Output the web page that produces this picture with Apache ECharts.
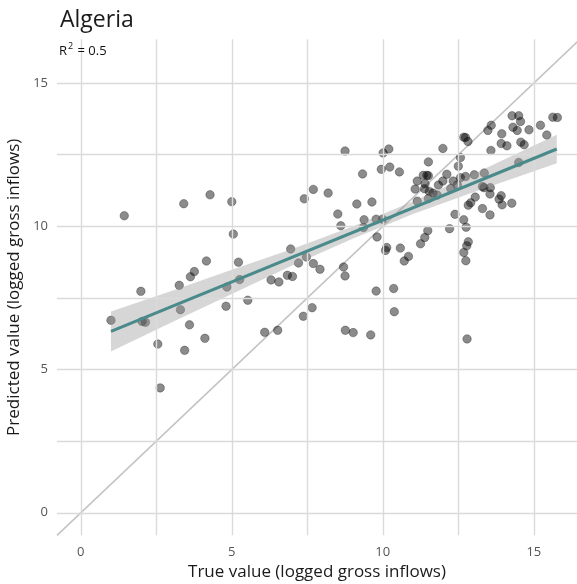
<!DOCTYPE html>
<html>
<head>
<meta charset="utf-8">
<script src="https://cdn.jsdelivr.net/npm/echarts@6/dist/echarts.min.js"></script>
<style>html,body{margin:0;padding:0;background:#fff;}#chart{width:577px;height:584px;}</style>
</head>
<body>
<div id="chart"></div>
<script>
// ---- data ----
const trueVals = [1.00,1.44,3.41,4.28,5.00,5.05,4.16,3.76,3.63,3.26,1.99,5.22,4.84,3.30,4.81,2.03,2.14,3.60,4.11,2.55,3.44,2.63,
  8.75,10.01,10.20,9.33,9.95,10.23,7.70,7.40,8.19,9.14,9.64,8.51,8.61,9.38,9.36,9.78,9.99,9.81,10.13,10.09,
  6.95,7.47,7.21,7.70,7.92,6.84,7.01,6.30,6.56,5.26,8.70,8.75,9.78,5.53,7.66,7.37,6.09,6.52,8.76,9.02,9.60,
  14.28,14.50,14.56,14.31,14.45,14.84,15.22,15.63,15.78,15.43,13.59,13.48,13.94,13.92,14.11,14.57,14.68,
  12.68,12.74,12.82,13.58,11.99,10.55,11.51,12.57,12.50,14.50,11.34,11.46,11.51,11.14,11.07,11.40,11.38,
  11.54,11.66,11.80,11.51,11.14,12.12,11.99,11.84,12.33,12.47,12.25,12.57,12.74,13.03,13.36,13.30,13.35,
  13.56,13.55,13.06,13.85,13.92,13.95,14.27,13.30,13.55,12.91,12.83,12.39,12.68,12.76,12.21,11.49,11.39,
  11.25,10.58,10.85,10.71,12.83,12.78,12.68,12.75,10.36,10.38,12.79];
const predVals = [6.72,10.37,10.79,11.10,10.86,9.73,8.79,8.42,8.24,7.94,7.73,8.75,7.88,7.09,7.21,6.68,6.65,6.56,6.09,5.89,5.67,4.36,
  12.63,12.56,12.70,11.83,11.99,12.07,11.29,10.96,11.16,10.78,10.85,10.43,10.02,10.23,9.96,10.25,10.25,9.63,9.26,9.16,
  9.21,8.93,8.72,8.70,8.50,8.29,8.25,8.13,8.06,8.14,8.58,8.27,7.74,7.42,7.16,6.86,6.30,6.37,6.37,6.29,6.21,
  13.86,13.86,13.66,13.46,13.35,13.37,13.53,13.81,13.80,13.19,13.53,13.35,13.23,12.89,12.81,12.94,12.85,
  13.11,13.10,12.96,12.65,12.72,11.90,12.25,12.40,12.10,12.23,11.78,11.78,11.77,11.58,11.30,11.49,11.31,
  11.22,11.16,11.09,10.97,10.88,11.82,11.58,11.44,11.58,11.44,11.32,11.70,11.74,11.80,11.86,11.39,11.35,
  11.35,11.13,11.02,10.95,11.07,10.75,10.81,10.62,10.40,10.82,10.74,10.42,10.23,9.97,9.92,9.85,9.61,
  9.39,9.24,8.95,8.79,9.46,9.32,9.09,8.80,7.83,7.02,6.07];

// fitted regression line and its confidence band
const fitX = [1.00, 15.76];
const fitY = [6.33, 12.70];
const bandX  = [1.00, 3.00, 5.00, 7.00, 9.00, 11.00, 13.00, 15.76];
const bandLo = [5.63, 6.64, 7.64, 8.63, 9.57, 10.43, 11.19, 12.20];
const bandHi = [7.03, 7.74, 8.48, 9.21, 9.99, 10.87, 11.83, 13.20];

// 45-degree reference line endpoints
const diagX = [-0.787, 16.53];
const diagY = [-0.787, 16.53];

// axis ticks
const majorTicks = [0, 5, 10, 15];
const minorTicks = [2.5, 7.5, 12.5];
const axisMin = -0.787;
const xAxisMax = 16.43;
const yAxisMax = 16.53;

const titleText = 'Algeria';
const r2Value = '0.5';
const xTitle = 'True value (logged gross inflows)';
const yTitle = 'Predicted value (logged gross inflows)';

// ---- chart ----
const FONT = '"Open Sans", sans-serif';
const gridColor = '#dadada';
const chart = echarts.init(document.getElementById('chart'), null, {renderer: 'canvas'});

const gridLines = [];
majorTicks.concat(minorTicks).forEach(v => { gridLines.push({xAxis: v}); gridLines.push({yAxis: v}); });

const points = trueVals.map((x, i) => [x, predVals[i]]);
const bandData = bandX.map((x, i) => [x, bandLo[i], bandHi[i]]);

chart.setOption({
  animation: false,
  backgroundColor: '#ffffff',
  title: [
    {text: titleText, left: 55, top: 4, textStyle: {fontFamily: FONT, fontSize: 23, fontWeight: 'normal', color: '#1a1a1a'}},
    {text: '{r|R}{s|2}{r| = ' + r2Value + '}', left: 54, top: 37,
     textStyle: {fontWeight: 'normal', rich: {
       r: {fontFamily: FONT, fontSize: 13, fontWeight: 'normal', color: '#111', verticalAlign: 'bottom', lineHeight: 16},
       s: {fontFamily: FONT, fontSize: 9, fontWeight: 'normal', color: '#111', verticalAlign: 'top', lineHeight: 16, padding: [0, 1, 6, 1]}
     }}}
  ],
  grid: {left: 57, right: 0, top: 39.3, bottom: 48.7, containLabel: false, outerBoundsMode: 'none'},
  xAxis: {
    type: 'value', min: axisMin, max: xAxisMax,
    axisLine: {show: false}, axisTick: {show: false}, splitLine: {show: false},
    axisLabel: {customValues: majorTicks, color: '#555', fontFamily: FONT, fontSize: 13, margin: 10},
    name: xTitle, nameLocation: 'middle', nameGap: 24,
    nameTextStyle: {fontFamily: FONT, fontSize: 17, color: '#1a1a1a'}
  },
  yAxis: {
    type: 'value', min: axisMin, max: yAxisMax,
    axisLine: {show: false}, axisTick: {show: false}, splitLine: {show: false},
    axisLabel: {customValues: majorTicks, color: '#555', fontFamily: FONT, fontSize: 13, margin: 9},
    name: yTitle, nameLocation: 'middle', nameGap: 28,
    nameTextStyle: {fontFamily: FONT, fontSize: 17, color: '#1a1a1a'}
  },
  series: [
    {
      type: 'line', data: [], z: 1, silent: true,
      markLine: {silent: true, symbol: ['none', 'none'], label: {show: false},
        lineStyle: {color: gridColor, width: 1.4, type: 'solid'}, emphasis: {disabled: true},
        data: gridLines}
    },
    {
      type: 'line', z: 2, silent: true, symbol: 'none',
      data: diagX.map((x, i) => [x, diagY[i]]),
      lineStyle: {color: '#c4c4c4', width: 1.6}
    },
    {
      type: 'scatter', z: 3, data: points, symbolSize: 8.5,
      itemStyle: {color: 'rgba(0,0,0,0.57)', borderColor: 'rgba(0,0,0,0.45)', borderWidth: 0.8}
    },
    {
      type: 'custom', z: 4, silent: true, data: bandData,
      encode: {x: 0, y: [1, 2]},
      renderItem: function (params, api) {
        if (params.dataIndex !== 0) return null;
        const upper = bandData.map(d => api.coord([d[0], d[2]]));
        const lower = bandData.map(d => api.coord([d[0], d[1]])).reverse();
        return {type: 'polygon', shape: {points: upper.concat(lower)},
          style: {fill: 'rgba(153,153,153,0.4)', stroke: 'none'}};
      }
    },
    {
      type: 'line', z: 5, silent: true, symbol: 'none',
      data: fitX.map((x, i) => [x, fitY[i]]),
      lineStyle: {color: '#4a8a8a', width: 3}
    }
  ]
});
</script>
</body>
</html>
